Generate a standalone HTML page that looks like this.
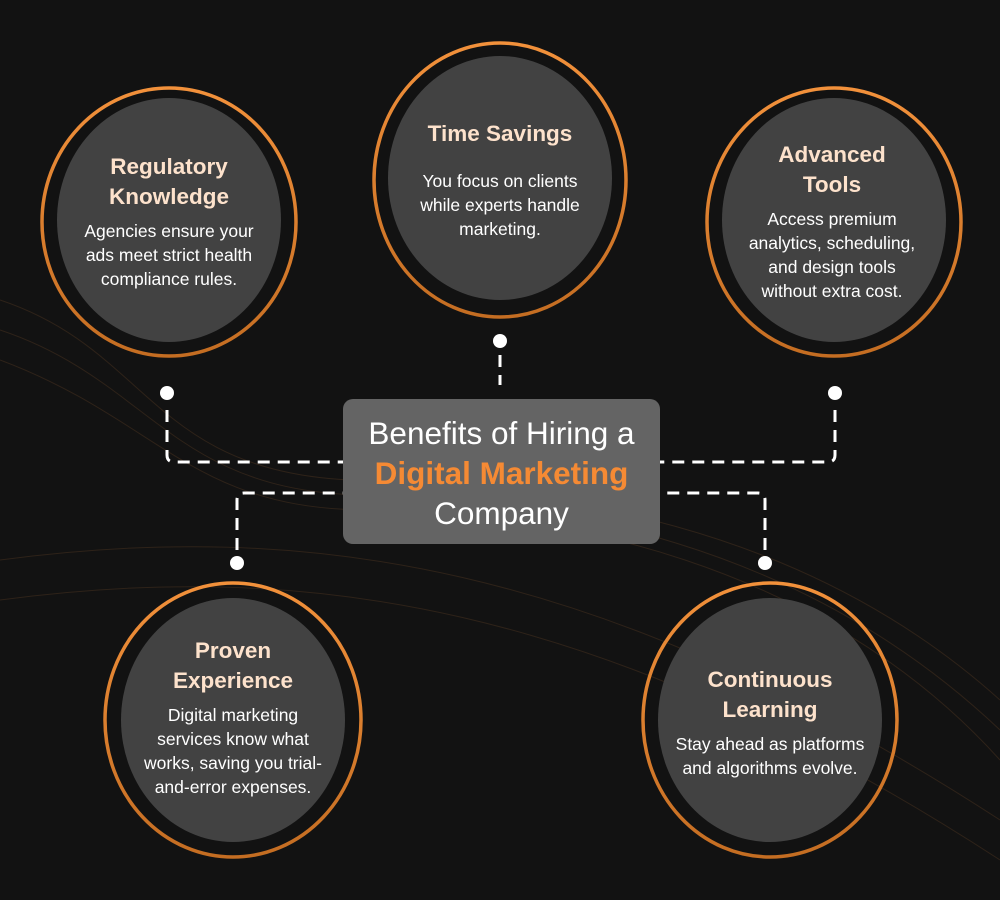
<!DOCTYPE html>
<html><head><meta charset="utf-8"><style>
body{margin:0;background:#121212;width:1000px;height:900px;overflow:hidden;position:relative;font-family:"Liberation Sans",sans-serif}
svg{position:absolute;left:0;top:0}
.t{position:absolute;width:250px;text-align:center;color:#fff}
.t h{display:block;color:#fde2cc;font-weight:bold;font-size:22.5px;line-height:30px;margin-bottom:7px}
.t p{margin:0;font-size:17.5px;line-height:24px}
.box{position:absolute;left:343px;top:399px;width:317px;height:145px;background:#646464;border-radius:10px;text-align:center;color:#fff;font-size:31.5px;line-height:40px;padding-top:14px;box-sizing:border-box}
.box b{color:#f58a34}
</style></head><body>
<svg width="1000" height="900">
<defs><linearGradient id="g" x1="0" y1="0" x2="0" y2="1"><stop offset="0" stop-color="#f2913b"/><stop offset="1" stop-color="#c46d22"/></linearGradient></defs>
<g fill="none" stroke="#3a2a1c" stroke-width="1" opacity="0.7">
<path d="M0 300 C150 350 150 470 350 480 S800 520 1000 700"/>
<path d="M0 330 C150 380 170 490 360 495 S800 540 1000 730"/>
<path d="M0 360 C160 420 190 510 370 510 S820 560 1000 760"/>
<path d="M0 560 C300 520 600 560 1000 820"/>
<path d="M0 600 C300 560 600 600 1000 860"/>
</g>
<g stroke="url(#g)" stroke-width="3.5" fill="none">
<ellipse cx="169" cy="222" rx="127" ry="134"/>
<ellipse cx="500" cy="180" rx="126" ry="137"/>
<ellipse cx="834" cy="222" rx="127" ry="134"/>
<ellipse cx="233" cy="720" rx="128" ry="137"/>
<ellipse cx="770" cy="720" rx="127" ry="137"/>
</g>
<g fill="#424242">
<ellipse cx="169" cy="220" rx="112" ry="122"/>
<ellipse cx="500" cy="178" rx="112" ry="122"/>
<ellipse cx="834" cy="220" rx="112" ry="122"/>
<ellipse cx="233" cy="720" rx="112" ry="122"/>
<ellipse cx="770" cy="720" rx="112" ry="122"/>
</g>
<g stroke="#fff" stroke-width="3" fill="none" stroke-dasharray="12 8">
<path d="M167 410 V455 Q167 462 174 462 H343"/>
<path d="M835 410 V455 Q835 462 828 462 H660"/>
<path d="M237 550 V500 Q237 493 244 493 H343"/>
<path d="M765 550 V500 Q765 493 758 493 H660"/>
<path d="M500 355 V385"/>
</g>
<g fill="#fff">
<circle cx="167" cy="393" r="7"/><circle cx="500" cy="341" r="7"/><circle cx="835" cy="393" r="7"/>
<circle cx="237" cy="563" r="7"/><circle cx="765" cy="563" r="7"/>
</g>
</svg>
<div class="t" style="left:44px;top:152px"><h>Regulatory<br>Knowledge</h><p>Agencies ensure your<br>ads meet strict health<br>compliance rules.</p></div>
<div class="t" style="left:375px;top:119px"><h>Time Savings</h><p style="margin-top:20px">You focus on clients<br>while experts handle<br>marketing.</p></div>
<div class="t" style="left:707px;top:140px"><h>Advanced<br>Tools</h><p>Access premium<br>analytics, scheduling,<br>and design tools<br>without extra cost.</p></div>
<div class="t" style="left:108px;top:636px"><h>Proven<br>Experience</h><p>Digital marketing<br>services know what<br>works, saving you trial-<br>and-error expenses.</p></div>
<div class="t" style="left:645px;top:665px"><h>Continuous<br>Learning</h><p>Stay ahead as platforms<br>and algorithms evolve.</p></div>
<div class="box">Benefits of Hiring a<br><b>Digital Marketing</b><br>Company</div>
</body></html>
